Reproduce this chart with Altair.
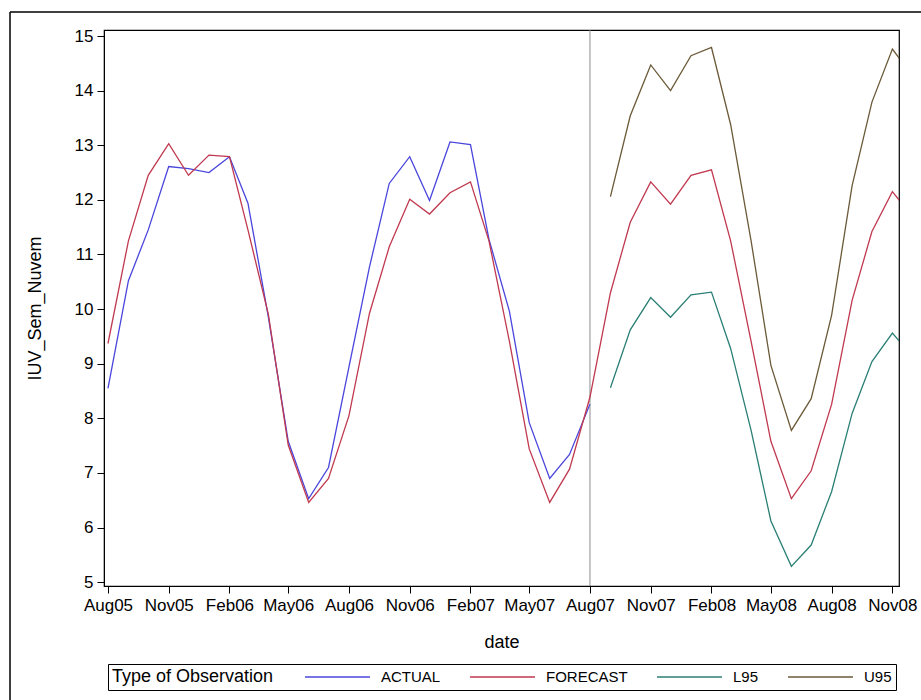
import altair as alt
import pandas as pd

# monthly dates Aug05 .. Dec08 (index 0..40)
months = pd.date_range("2005-08-01", "2008-12-01", freq="MS").strftime("%Y-%m-%d").tolist()

actual = [8.55, 10.52, 11.45, 12.61, 12.57, 12.50, 12.79, 11.94, 9.85, 7.58, 6.53, 7.10,
          8.94, 10.77, 12.30, 12.79, 11.99, 13.06, 13.01, 11.28, 9.96, 7.92, 6.90, 7.34, 8.26]

forecast = [9.37, 11.25, 12.45, 13.03, 12.45, 12.82, 12.79, 11.45, 9.90, 7.51, 6.46, 6.90,
            8.05, 9.92, 11.14, 12.01, 11.74, 12.13, 12.33, 11.25, 9.41, 7.44, 6.46, 7.07, 8.39,
            10.30, 11.59, 12.33, 11.92, 12.45, 12.55, 11.25, 9.41, 7.58, 6.53, 7.04, 8.26,
            10.16, 11.42, 12.15, 11.70]

l95 = [8.56, 9.62, 10.21, 9.85, 10.26, 10.31, 9.28, 7.78, 6.12, 5.29, 5.68, 6.66,
       8.09, 9.04, 9.56, 9.14]

u95 = [12.06, 13.54, 14.47, 14.00, 14.64, 14.79, 13.38, 11.25, 8.97, 7.78, 8.36, 9.89,
       12.26, 13.79, 14.76, 14.28]

series_names = ["ACTUAL", "FORECAST", "L95", "U95"]
series_colors = ["#4a46dc", "#c0394f", "#2a7f74", "#6b5a38"]
tick_dates = ["2005-08-01", "2005-11-01", "2006-02-01", "2006-05-01", "2006-08-01",
              "2006-11-01", "2007-02-01", "2007-05-01", "2007-08-01", "2007-11-01",
              "2008-02-01", "2008-05-01", "2008-08-01", "2008-11-01"]
y_ticks = [5, 6, 7, 8, 9, 10, 11, 12, 13, 14, 15]
ref_date = "2007-08-01"

rows = []
for i, v in enumerate(actual):
    rows.append({"date": months[i], "value": v, "type": "ACTUAL"})
for i, v in enumerate(forecast):
    rows.append({"date": months[i], "value": v, "type": "FORECAST"})
for i, v in enumerate(l95):
    rows.append({"date": months[25 + i], "value": v, "type": "L95"})
for i, v in enumerate(u95):
    rows.append({"date": months[25 + i], "value": v, "type": "U95"})
df = pd.DataFrame(rows)


def dt(s):
    y, m, d = (int(p) for p in s.split("-"))
    return alt.DateTime(year=y, month=m, date=d, utc=True)


FONT = "Liberation Sans"

x_scale = alt.Scale(type="utc", domain=[dt("2005-07-26"), dt("2008-11-11")])
x_axis = alt.Axis(values=[dt(s) for s in tick_dates],
                  labelExpr="utcFormat(datum.value, '%b%y')",
                  labelFlush=False, labelOverlap=False)

x_enc = alt.X("date:T", title="date", scale=x_scale, axis=x_axis)
y_enc = alt.Y(
    "value:Q",
    title="IUV_Sem_Nuvem",
    scale=alt.Scale(domain=[4.93, 15.11], nice=False, zero=False),
    axis=alt.Axis(values=y_ticks),
)

lines = alt.Chart(df).mark_line(strokeWidth=1.3, clip=True).encode(
    x=x_enc,
    y=y_enc,
    color=alt.Color(
        "type:N",
        title="Type of Observation",
        scale=alt.Scale(domain=series_names, range=series_colors),
        legend=alt.Legend(
            orient="none", legendX=4, legendY=634, direction="horizontal",
            titleOrient="left", symbolType="stroke", symbolSize=4225,
            symbolStrokeWidth=1.5, clipHeight=18, columnPadding=28, labelOffset=10,
            titlePadding=30, padding=4, strokeColor="black",
        ),
    ),
    detail="type:N",
)

ref = alt.Chart(pd.DataFrame({"d": [ref_date]})).mark_rule(color="#8c8c8c", strokeWidth=1).encode(
    x=alt.X("d:T", scale=x_scale, axis=x_axis, title="date")
)

frame_left = alt.Chart().mark_rule(color="black", strokeWidth=1.5).encode(
    x=alt.value(-94), y=alt.value(-18), y2=alt.value(680)
)
frame_top = alt.Chart().mark_rule(color="black", strokeWidth=1.5).encode(
    x=alt.value(-94), x2=alt.value(830), y=alt.value(-18)
)

chart = alt.layer(ref, lines, frame_left, frame_top).properties(
    width=795, height=556,
    autosize=alt.AutoSizeParams(type="none"),
    padding={"left": 104, "top": 30, "right": 22, "bottom": 114},
).configure(
    font=FONT,
    background="white",
).configure_view(
    stroke="black", strokeWidth=1.2,
).configure_axis(
    grid=False, domainColor="black", tickColor="black", tickSize=7,
    labelFont=FONT, labelFontSize=17, labelColor="black", labelPadding=4,
    titleFont=FONT, titleFontSize=18, titleFontWeight="normal", titleColor="black",
).configure_axisY(
    titlePadding=30,
).configure_axisX(
    titlePadding=20,
).configure_legend(
    titleFont=FONT, titleFontSize=18, titleFontWeight="normal", titleColor="black",
    labelFont=FONT, labelFontSize=15, labelColor="black",
)

chart.save("out.html", embed_options={"renderer": "svg", "actions": False})
